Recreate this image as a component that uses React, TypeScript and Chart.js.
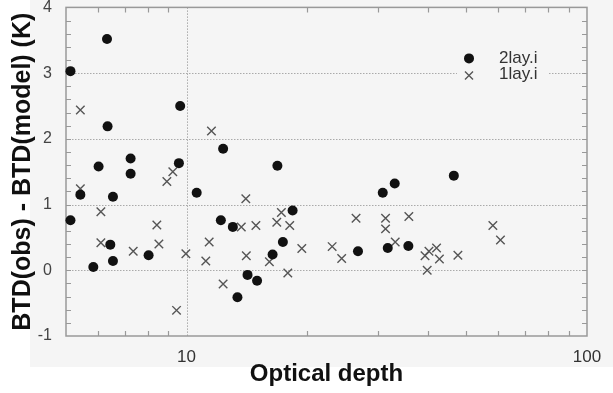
import React, { useEffect, useRef } from 'react';
import { Chart, registerables } from 'chart.js';

Chart.register(...registerables);

// ---- data ----
const seriesNames = ['2lay.i', '1lay.i'];

const twoLayX = [5.13, 6.33, 6.35, 9.64, 6.03, 7.25, 7.25, 9.57, 5.43, 6.55, 10.6, 5.13, 6.45, 6.55, 5.85, 8.04, 12.34, 16.86, 30.9, 33.1, 46.5, 12.18, 13.05, 18.4, 17.4, 16.4, 14.2, 15.0, 13.4, 26.8, 31.8, 35.8];
const twoLayY = [3.03, 3.52, 2.19, 2.50, 1.58, 1.70, 1.47, 1.63, 1.15, 1.12, 1.18, 0.76, 0.39, 0.14, 0.05, 0.23, 1.85, 1.59, 1.18, 1.32, 1.44, 0.76, 0.66, 0.91, 0.43, 0.24, -0.07, -0.16, -0.41, 0.29, 0.34, 0.37];

const oneLayX = [5.43, 5.43, 8.93, 9.24, 6.11, 6.11, 8.43, 8.53, 7.36, 9.96, 9.44, 11.54, 14.06, 17.25, 13.7, 14.9, 16.8, 18.1, 11.39, 11.17, 14.1, 16.1, 19.4, 12.34, 17.9, 23.1, 24.4, 26.5, 31.4, 31.4, 33.2, 35.9, 39.4, 40.3, 42.1, 42.8, 39.9, 47.6, 58.2, 60.8];
const oneLayY = [2.44, 1.24, 1.35, 1.50, 0.89, 0.42, 0.69, 0.40, 0.29, 0.25, -0.61, 2.12, 1.09, 0.88, 0.66, 0.68, 0.73, 0.68, 0.43, 0.14, 0.22, 0.13, 0.33, -0.21, -0.04, 0.36, 0.18, 0.79, 0.79, 0.63, 0.43, 0.82, 0.22, 0.29, 0.34, 0.17, 0.00, 0.23, 0.68, 0.46];

// ---- axes ----
const xMin = 5;
const xMax = 100;
const xLabeledTicks = [10, 100];
const xMinorTicks = [6, 7, 8, 9, 20, 30, 40, 50, 60, 70, 80, 90];
const xGridValues = [10];
const yMin = -1;
const yMax = 4;
const yGridValues = [0, 1, 2, 3];
const yMinorStep = 0.2;
const xTitle = 'Optical depth';
const yTitle = 'BTD(obs) - BTD(model) (K)';

const W = 613;
const H = 393;
const FONT = '"Liberation Sans", Arial, Helvetica, sans-serif';

const decorPlugin = {
  id: 'decor',
  beforeDraw(chart: any) {
    const { ctx, chartArea: a, scales } = chart;
    ctx.save();
    ctx.fillStyle = '#ffffff';
    ctx.fillRect(0, 0, W, H);
    ctx.fillStyle = '#f5f5f5';
    ctx.fillRect(30, 0, W - 30, 367);

    // dotted grid
    ctx.strokeStyle = '#aaaaaa';
    ctx.lineWidth = 1;
    ctx.setLineDash([1.5, 1.5]);
    yGridValues.forEach((v) => {
      const y = Math.round(scales.y.getPixelForValue(v)) + 0.5;
      ctx.beginPath();
      ctx.moveTo(a.left, y);
      ctx.lineTo(a.right, y);
      ctx.stroke();
    });
    xGridValues.forEach((v) => {
      const x = Math.round(scales.x.getPixelForValue(v)) + 0.5;
      ctx.beginPath();
      ctx.moveTo(x, a.top);
      ctx.lineTo(x, a.bottom);
      ctx.stroke();
    });
    ctx.setLineDash([]);

    // legend background box (interrupts grid)
    ctx.fillStyle = '#f5f5f5';
    ctx.fillRect(a.right - 130, a.top + 41, 92, 36);

    // frame
    ctx.strokeStyle = '#999999';
    ctx.lineWidth = 1.5;
    ctx.strokeRect(a.left, a.top, a.right - a.left, a.bottom - a.top);

    // minor ticks
    ctx.lineWidth = 1.2;
    const tl = 5;
    ctx.beginPath();
    xMinorTicks.forEach((v) => {
      const x = Math.round(scales.x.getPixelForValue(v)) + 0.5;
      ctx.moveTo(x, a.bottom);
      ctx.lineTo(x, a.bottom - tl);
      ctx.moveTo(x, a.top);
      ctx.lineTo(x, a.top + tl);
    });
    const n = Math.round((yMax - yMin) / yMinorStep);
    for (let i = 1; i < n; i++) {
      const y = Math.round(scales.y.getPixelForValue(yMin + i * yMinorStep)) + 0.5;
      ctx.moveTo(a.left, y);
      ctx.lineTo(a.left + tl, y);
      ctx.moveTo(a.right, y);
      ctx.lineTo(a.right - tl, y);
    }
    ctx.stroke();
    ctx.restore();
  },
  afterDraw(chart: any) {
    const { ctx, chartArea: a } = chart;
    ctx.save();
    const sx = a.right - 118;
    const y1 = a.top + 51;
    const y2 = a.top + 68;
    ctx.fillStyle = '#111111';
    ctx.beginPath();
    ctx.arc(sx, y1, 5, 0, Math.PI * 2);
    ctx.fill();
    ctx.strokeStyle = '#555555';
    ctx.lineWidth = 1.4;
    const r = 4;
    ctx.beginPath();
    ctx.moveTo(sx - r, y2 - r);
    ctx.lineTo(sx + r, y2 + r);
    ctx.moveTo(sx - r, y2 + r);
    ctx.lineTo(sx + r, y2 - r);
    ctx.stroke();
    ctx.fillStyle = '#333333';
    ctx.font = `17px ${FONT}`;
    ctx.textBaseline = 'middle';
    ctx.textAlign = 'left';
    ctx.fillText(seriesNames[0], sx + 30, y1);
    ctx.fillText(seriesNames[1], sx + 30, y2 - 1);
    ctx.restore();
  },
};

export default function App() {
  const ref = useRef<HTMLCanvasElement>(null);

  useEffect(() => {
    if (!ref.current) return;
    const chart = new Chart(ref.current, {
      type: 'scatter',
      data: {
        datasets: [
          {
            label: seriesNames[0],
            data: twoLayX.map((x, i) => ({ x, y: twoLayY[i] })),
            pointStyle: 'circle',
            pointRadius: 5,
            pointHoverRadius: 5,
            backgroundColor: '#111111',
            borderColor: '#111111',
            borderWidth: 0,
            clip: false,
          } as any,
          {
            label: seriesNames[1],
            data: oneLayX.map((x, i) => ({ x, y: oneLayY[i] })),
            pointStyle: 'crossRot',
            pointRadius: 6,
            pointHoverRadius: 6,
            backgroundColor: '#555555',
            borderColor: '#555555',
            borderWidth: 1.4,
            clip: false,
          } as any,
        ],
      },
      options: {
        responsive: false,
        animation: false,
        devicePixelRatio: 1,
        layout: { padding: { left: 0, top: 7, right: 26, bottom: 0 } },
        plugins: { legend: { display: false }, tooltip: { enabled: false } },
        scales: {
          x: {
            type: 'logarithmic',
            min: xMin,
            max: xMax,
            position: 'bottom',
            afterBuildTicks: (s: any) => {
              s.ticks = xLabeledTicks.map((v) => ({ value: v }));
            },
            afterFit: (s: any) => {
              s.height = 57;
              s.paddingLeft = 0;
              s.paddingRight = 0;
            },
            ticks: {
              autoSkip: false,
              maxRotation: 0,
              padding: 13,
              color: '#333333',
              font: { family: FONT, size: 17, lineHeight: 1 },
              callback: (v: any) => String(v),
            },
            grid: { display: false, drawTicks: false },
            border: { display: false },
            title: {
              display: true,
              text: xTitle,
              color: '#111111',
              font: { family: FONT, size: 24, weight: 'bold' },
              padding: { top: 0, bottom: 4 },
            },
          },
          y: {
            type: 'linear',
            min: yMin,
            max: yMax,
            afterFit: (s: any) => {
              s.width = 66;
              s.paddingTop = 0;
              s.paddingBottom = 0;
            },
            ticks: {
              stepSize: 1,
              padding: 14,
              color: '#444444',
              font: { family: FONT, size: 16, lineHeight: 0.8 },
            },
            grid: { display: false, drawTicks: false },
            border: { display: false },
            title: {
              display: true,
              text: yTitle,
              color: '#111111',
              font: { family: FONT, size: 25, weight: 'bold' },
              padding: { top: 8, bottom: 0 },
            },
          },
        },
      } as any,
      plugins: [decorPlugin],
    });
    return () => chart.destroy();
  }, []);

  return (
    <div style={{ position: 'absolute', left: 0, top: 0, width: W, height: H }}>
      <canvas ref={ref} width={W} height={H} style={{ display: 'block', width: W, height: H }} />
    </div>
  );
}
